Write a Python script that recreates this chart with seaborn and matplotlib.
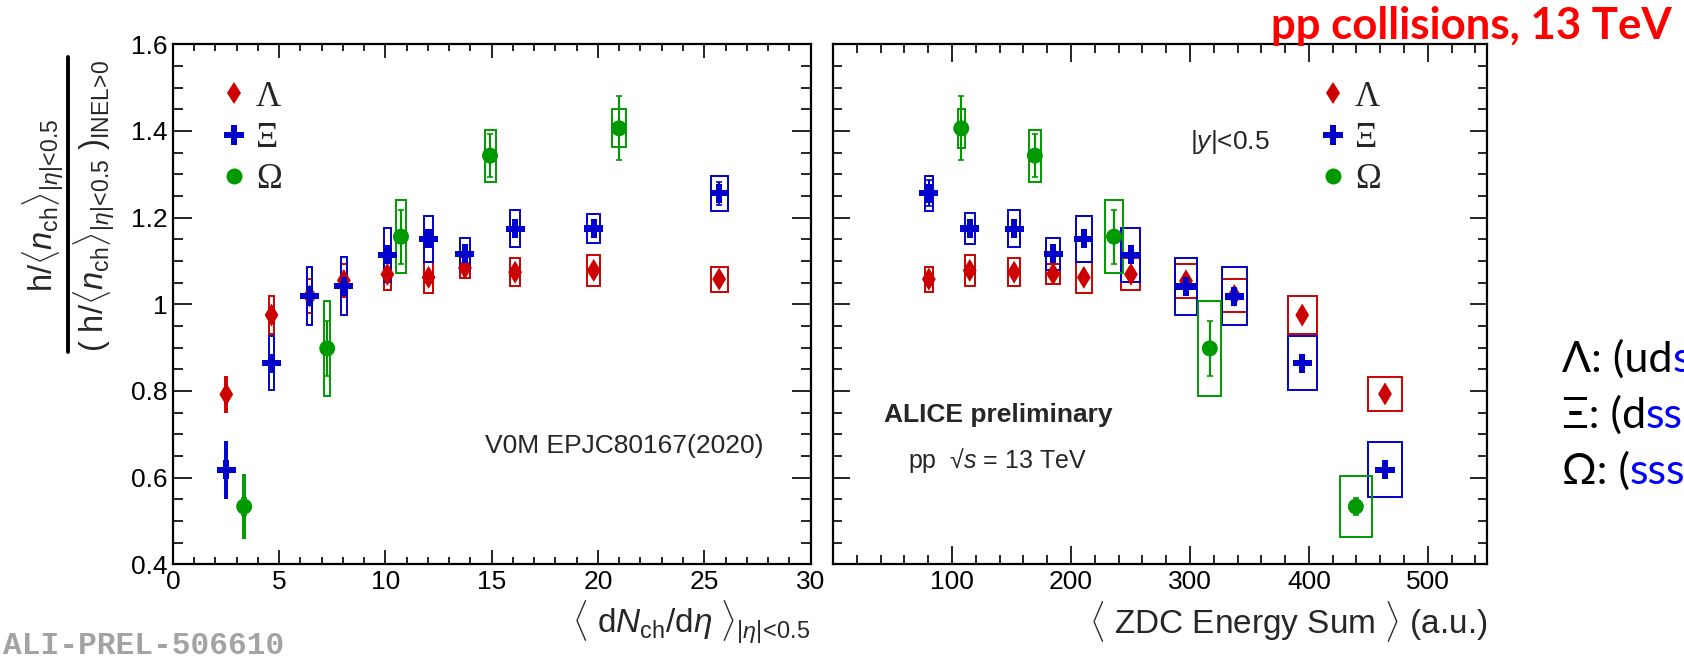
import matplotlib
matplotlib.use("Agg")
import matplotlib.pyplot as plt
import seaborn as sns
from matplotlib.lines import Line2D
from matplotlib.ticker import MultipleLocator

# ---- data ----
# left panel: V0M multiplicity classes, <dNch/deta>
lam_x_v0m = [2.51, 4.64, 6.44, 8.04, 10.09, 12.03, 13.74, 16.1, 19.8, 25.7]
lam_y_v0m = [0.792, 0.975, 1.019, 1.055, 1.069, 1.062, 1.084, 1.074, 1.078, 1.058]
lam_sys_v0m = [0.040, 0.043, 0.039, 0.039, 0.037, 0.035, 0.024, 0.033, 0.035, 0.029]
lam_stat_v0m = [0.010, 0.008, 0.008, 0.007, 0.007, 0.007, 0.007, 0.007, 0.007, 0.008]
xi_y_v0m = [0.618, 0.864, 1.019, 1.042, 1.114, 1.151, 1.116, 1.174, 1.175, 1.256]
xi_sys_v0m = [0.065, 0.062, 0.067, 0.066, 0.063, 0.053, 0.038, 0.043, 0.034, 0.040]
xi_stat_v0m = [0.015, 0.012, 0.012, 0.012, 0.012, 0.012, 0.012, 0.015, 0.020, 0.027]
box_w_v0m = [0.10, 0.20, 0.22, 0.30, 0.35, 0.40, 0.48, 0.48, 0.63, 0.80]

om_x_v0m = [3.35, 7.26, 10.73, 14.92, 20.99]
om_y_v0m = [0.533, 0.898, 1.156, 1.343, 1.406]
om_sys_v0m = [0.072, 0.110, 0.085, 0.060, 0.044]
om_stat_v0m = [0.020, 0.063, 0.062, 0.049, 0.074]
om_w_v0m = [0.10, 0.26, 0.43, 0.52, 0.67]

# right panel: ZDC energy classes
zdc_x = [80.5, 114.9, 152.2, 185.0, 210.8, 250.4, 296.7, 337.3, 394.4, 464.0]
lam_y_zdc = [1.058, 1.078, 1.074, 1.070, 1.062, 1.069, 1.054, 1.020, 0.975, 0.793]
lam_sys_zdc = [0.029, 0.035, 0.033, 0.024, 0.035, 0.037, 0.039, 0.039, 0.043, 0.039]
lam_stat_zdc = [0.008, 0.007, 0.007, 0.007, 0.007, 0.007, 0.007, 0.008, 0.008, 0.010]
xi_y_zdc = [1.256, 1.175, 1.174, 1.116, 1.151, 1.114, 1.041, 1.018, 0.864, 0.618]
xi_sys_zdc = [0.040, 0.035, 0.043, 0.038, 0.053, 0.063, 0.066, 0.067, 0.062, 0.063]
xi_stat_zdc = [0.030, 0.020, 0.015, 0.012, 0.012, 0.012, 0.012, 0.012, 0.012, 0.015]
box_w_zdc = [6.4, 8.0, 10.0, 11.6, 13.5, 16.0, 18.7, 20.6, 24.5, 28.0]

om_x_zdc = [107.8, 169.6, 236.2, 316.7, 439.5]
om_y_zdc = [1.406, 1.343, 1.156, 0.898, 0.533]
om_sys_zdc = [0.045, 0.060, 0.085, 0.110, 0.070]
om_stat_zdc = [0.074, 0.049, 0.062, 0.063, 0.020]
om_w_zdc = [6.0, 10.0, 14.5, 19.6, 26.7]

species = ["Λ", "Ξ", "Ω"]
yticks = [0.4, 0.6, 0.8, 1.0, 1.2, 1.4, 1.6]
ytick_labels = ["0.4", "0.6", "0.8", "1", "1.2", "1.4", "1.6"]
xticks_v0m = [0, 5, 10, 15, 20, 25, 30]
xticks_zdc = [100, 200, 300, 400, 500]

RED, BLUE, GREEN = "#cc0000", "#0000cc", "#009a00"
styles = {"Λ": (RED, "d", 137), "Ξ": (BLUE, "P", 188), "Ω": (GREEN, "o", 132)}

sns.set_theme(style="ticks")
plt.rcParams["font.family"] = ["Liberation Sans", "DejaVu Sans"]
plt.rcParams["mathtext.fontset"] = "custom"
plt.rcParams["mathtext.rm"] = "Liberation Sans"
plt.rcParams["mathtext.it"] = "Liberation Sans:italic"
plt.rcParams["mathtext.bf"] = "Liberation Sans:bold"

ETA_CUT = r"|\eta|\!<\!0.5"


def draw_species(ax, x, y, stat, sys_, w, name):
    color, marker, size = styles[name]
    ax.bar(x, [2 * s for s in sys_], bottom=[v - s for v, s in zip(y, sys_)], width=w,
           fill=False, edgecolor=color, linewidth=1.4, zorder=2)
    ax.errorbar(x, y, yerr=stat, fmt="none", ecolor=color, elinewidth=1.5,
                capsize=2, capthick=1.2, zorder=3)
    sns.scatterplot(x=x, y=y, marker=marker, s=size, color=color, linewidth=0,
                    edgecolor="none", ax=ax, zorder=4, legend=False)


def style_axes(ax, xmin_step, xlen, ylen):
    ax.set_ylim(0.4, 1.6)
    ax.set_yticks(yticks)
    ax.yaxis.set_minor_locator(MultipleLocator(0.05))
    ax.xaxis.set_minor_locator(MultipleLocator(xmin_step))
    ax.tick_params(which="both", direction="in", top=True, right=True, width=1.2,
                   colors="black", labelsize=19)
    ax.tick_params(axis="x", which="major", length=xlen[0], pad=4)
    ax.tick_params(axis="x", which="minor", length=xlen[1])
    ax.tick_params(axis="y", which="major", length=ylen[0], pad=4)
    ax.tick_params(axis="y", which="minor", length=ylen[1])
    for sp in ax.spines.values():
        sp.set_linewidth(1.6)
        sp.set_color("black")


def add_legend(ax, anchor):
    handles = [Line2D([], [], marker=styles[n][1], color=styles[n][0], linestyle="none",
                      markersize=styles[n][2] ** 0.5, markeredgewidth=0) for n in species]
    ax.legend(handles, species, loc="center left", bbox_to_anchor=anchor, frameon=False,
              prop={"family": "Liberation Serif", "size": 25}, handlelength=0.85,
              handletextpad=0.2, labelspacing=0.24, borderpad=0, borderaxespad=0)


fig = plt.figure(figsize=(16.84, 6.59), dpi=100)
ax1 = fig.add_axes([0.1027, 0.1439, 0.3786, 0.7889])
ax2 = fig.add_axes([0.4947, 0.1439, 0.3885, 0.7889])

# left panel
draw_species(ax1, lam_x_v0m, lam_y_v0m, lam_stat_v0m, lam_sys_v0m, box_w_v0m, "Λ")
draw_species(ax1, lam_x_v0m, xi_y_v0m, xi_stat_v0m, xi_sys_v0m, box_w_v0m, "Ξ")
draw_species(ax1, om_x_v0m, om_y_v0m, om_stat_v0m, om_sys_v0m, om_w_v0m, "Ω")
style_axes(ax1, 1, (10, 5), (13.5, 7))
ax1.set_xlim(0, 30)
ax1.set_xticks(xticks_v0m)
ax1.set_xticklabels([str(t) for t in xticks_v0m])
ax1.set_yticklabels(ytick_labels)
add_legend(ax1, (0.073, 0.819))
ax1.text(0.926, 0.228, "V0M EPJC80167(2020)", transform=ax1.transAxes, ha="right",
         va="center", fontsize=19)
ax1.set_xlabel(r"$\langle\ \mathrm{d}N_{\mathrm{ch}}/\mathrm{d}\eta\ \rangle_{" + ETA_CUT + "}$",
               loc="right", fontsize=24, labelpad=4)

# y title drawn as a stacked fraction with a heavy bar
num = r"h/$\langle n_{\mathrm{ch}}\rangle_{" + ETA_CUT + "}$"
den = r"( h/$\langle n_{\mathrm{ch}}\rangle_{" + ETA_CUT + r"}$ )$_{\mathrm{INEL}\!>\!0}$"
fig.text(0.0392, 0.688, num, rotation=90, ha="right", va="center", fontsize=23.5)
fig.text(0.0424, 0.688, den, rotation=90, ha="left", va="center", fontsize=23.5)
fig.add_artist(Line2D([0.0405, 0.0405], [0.466, 0.914], transform=fig.transFigure,
                      color="black", linewidth=2.8))

# right panel
draw_species(ax2, zdc_x, lam_y_zdc, lam_stat_zdc, lam_sys_zdc, box_w_zdc, "Λ")
draw_species(ax2, zdc_x, xi_y_zdc, xi_stat_zdc, xi_sys_zdc, box_w_zdc, "Ξ")
draw_species(ax2, om_x_zdc, om_y_zdc, om_stat_zdc, om_sys_zdc, om_w_zdc, "Ω")
style_axes(ax2, 20, (13, 6.5), (12, 6.5))
ax2.set_xlim(0, 550)
ax2.set_xticks(xticks_zdc)
ax2.set_xticklabels([str(t) for t in xticks_zdc])
ax2.set_yticklabels([])
add_legend(ax2, (0.742, 0.819))
ax2.text(0.607, 0.812, r"|$y$|<0.5", transform=ax2.transAxes, ha="center", va="center",
         fontsize=19)
ax2.text(0.078, 0.2875, "ALICE preliminary", transform=ax2.transAxes, ha="left",
         va="center", fontsize=19, fontweight="bold")
ax2.text(0.114, 0.200, r"pp  √$s$ = 13 TeV", transform=ax2.transAxes, ha="left",
         va="center", fontsize=18)
ax2.set_xlabel(r"$\langle$ ZDC Energy Sum $\rangle$ (a.u.)", loc="right", fontsize=24,
               labelpad=4)

# slide annotations
fig.text(0.993, 0.9404, "pp collisions, 13 TeV", ha="right", va="baseline",
         color="#ff0000", fontsize=31.5, fontweight="bold", family="Lato")
quark_lines = [("Λ: (ud", "s", 0.436), ("Ξ: (d", "ss", 0.3505), ("Ω: (", "sss", 0.2656)]
for head, strange, ybase in quark_lines:
    t = fig.text(0.9274, ybase, head, ha="left", va="baseline", fontsize=31,
                 family="Lato", color="black")
    ax2.annotate(strange, xy=(1, ybase), xycoords=(t, "figure fraction"), ha="left",
                 va="baseline", fontsize=31, family="Lato", color="#0000ff",
                 annotation_clip=False)

fig.text(0.002, 0.008, "ALI-PREL-506610", ha="left", va="baseline", fontsize=22.5,
         family="Liberation Mono", fontweight="bold", color="#a3a3a3")

fig.savefig("out.png", dpi=100)
